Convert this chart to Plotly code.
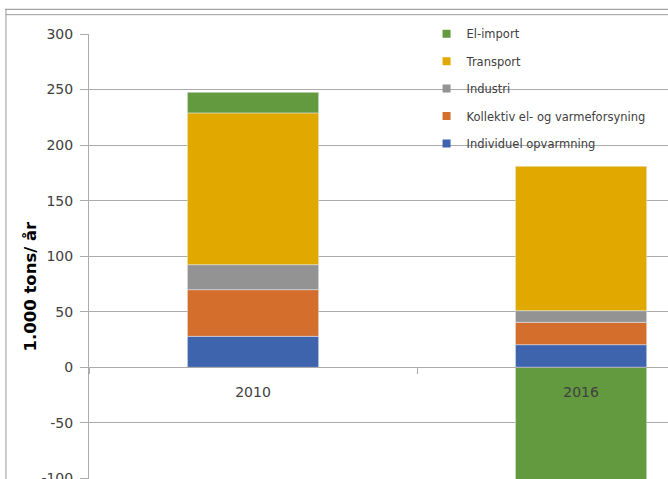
import plotly.graph_objects as go

YEARS = ["2010", "2016"]
SERIES = ["Individuel opvarmning", "Kollektiv el- og varmeforsyning", "Industri", "Transport", "El-import"]
INDIVIDUEL = [27.9, 20.4]
KOLLEKTIV = [42.0, 20.1]
INDUSTRI = [22.5, 10.5]
TRANSPORT = [136.6, 129.9]
EL_IMPORT = [18.5, -110.0]

Y_TICKS = [-100, -50, 0, 50, 100, 150, 200, 250, 300]
Y_TICK_LABELS = ["-100", "-50", "0", "50", "100", "150", "200", "250", "300"]

COLORS = ["#3D64AD", "#D46E2C", "#939393", "#E1A900", "#639A3F"]
GRID = "#ABABAB"
TEXT = "#404040"
FONT = "DejaVu Sans"

values = [INDIVIDUEL, KOLLEKTIV, INDUSTRI, TRANSPORT, EL_IMPORT]

fig = go.Figure()
for name, vals, col in zip(SERIES, values, COLORS):
    fig.add_trace(go.Bar(
        x=YEARS, y=vals, name=name, width=0.4,
        marker_color=col, showlegend=False,
    ))

# small square legend markers, like the Excel legend (top series first)
for name, col in reversed(list(zip(SERIES, COLORS))):
    fig.add_trace(go.Scatter(
        x=[None], y=[None], mode="markers", name=name, legendgroup=name,
        marker=dict(symbol="square", size=8, color=col),
    ))

zero_pos = 100.5 / 400.5

fig.update_layout(
    width=668, height=479,
    margin=dict(l=89, r=0, t=34, b=0, autoexpand=False),
    barmode="relative",
    paper_bgcolor="white", plot_bgcolor="white",
    font=dict(family=FONT, color=TEXT, size=14),
    xaxis=dict(
        type="category", range=[-0.5, 1.265],
        anchor="free", position=zero_pos,
        showline=True, linecolor=GRID, linewidth=1,
        ticks="outside", tickson="boundaries", ticklen=6, tickcolor=GRID,
        showgrid=False, ticklabelstandoff=12,
        tickfont=dict(size=14, color=TEXT),
    ),
    yaxis=dict(
        range=[-100.5, 300], tickvals=Y_TICKS, ticktext=Y_TICK_LABELS,
        showline=True, linecolor=GRID, linewidth=1,
        ticks="outside", ticklen=8, tickcolor=GRID,
        showgrid=True, gridcolor=GRID, gridwidth=1, zeroline=False,
        ticklabelstandoff=4, ticklabeloverflow="allow",
        tickfont=dict(size=14, color=TEXT),
    ),
    legend=dict(
        x=0.583, y=1.033, xanchor="left", yanchor="top",
        traceorder="grouped", tracegroupgap=8.4,
        font=dict(size=11.5, color=TEXT, family=FONT),
        itemwidth=30, bgcolor="rgba(0,0,0,0)",
    ),
    annotations=[dict(
        text="<b>1.000 tons/ år</b>", textangle=-90,
        xref="paper", yref="paper", x=-0.1226, y=0.4337,
        showarrow=False, font=dict(size=16.5, color="#000000"),
    )],
    shapes=[
        dict(type="line", xref="paper", yref="paper", x0=-0.145, x1=1.0,
             y0=1.0555, y1=1.0555, line=dict(color="#8C8C8C", width=1)),
        dict(type="line", xref="paper", yref="paper", x0=-0.1434, x1=1.0,
             y0=1.0434, y1=1.0434, line=dict(color="#9A9A9A", width=1)),
        dict(type="line", xref="paper", yref="paper", x0=-0.1434, x1=-0.1434,
             y0=1.0555, y1=-0.01, line=dict(color="#9A9A9A", width=1)),
    ],
)

# the page's default body margin would shift the figure by 8px
fig.write_html("out.html", config={"displayModeBar": False},
               post_script="document.body.style.margin='0';")
